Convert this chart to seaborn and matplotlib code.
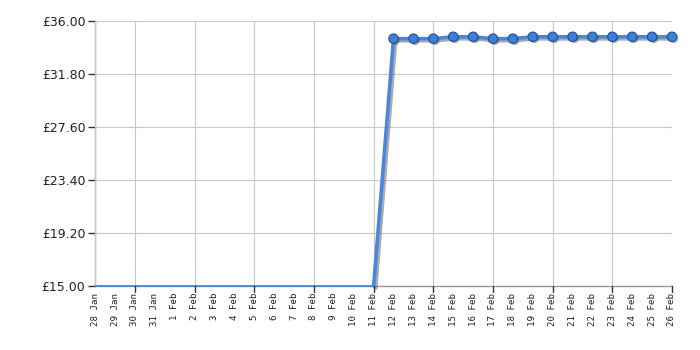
import matplotlib
matplotlib.use("Agg")
import matplotlib.pyplot as plt
import matplotlib.patheffects as pe
import seaborn as sns
import pandas as pd
import numpy as np

dates = ["28 Jan", "29 Jan", "30 Jan", "31 Jan", "1 Feb", "2 Feb", "3 Feb", "4 Feb",
         "5 Feb", "6 Feb", "7 Feb", "8 Feb", "9 Feb", "10 Feb", "11 Feb", "12 Feb",
         "13 Feb", "14 Feb", "15 Feb", "16 Feb", "17 Feb", "18 Feb", "19 Feb", "20 Feb",
         "21 Feb", "22 Feb", "23 Feb", "24 Feb", "25 Feb", "26 Feb"]
prices = [15.0] * 15 + [34.6, 34.6, 34.6, 34.75, 34.75, 34.6, 34.6, 34.75, 34.75,
                        34.75, 34.75, 34.75, 34.75, 34.75, 34.75]
y_ticks = [15.00, 19.20, 23.40, 27.60, 31.80, 36.00]

df = pd.DataFrame({"day": np.arange(len(dates)), "price": prices, "label": dates})
low = df.iloc[:15]
high = df.iloc[14:]
marked = df.iloc[15:]

sns.set_style("white")
plt.rcParams['font.family'] = ['DejaVu Sans']

fig = plt.figure(figsize=(7, 3.5), dpi=100)
ax = fig.add_axes([0.136, 0.183, 0.824, 0.757])

line_col = "#4a86e0"
sns.lineplot(data=low, x="day", y="price", ax=ax, color=line_col, linewidth=1.3, zorder=4, clip_on=False)
sns.lineplot(data=high, x="day", y="price", ax=ax, color=line_col, linewidth=2.6, zorder=5, clip_on=False,
             path_effects=[pe.SimpleLineShadow(offset=(1.5, -1.5), shadow_color="#666666", alpha=0.55),
                           pe.Normal()])
sns.scatterplot(data=marked, x="day", y="price", ax=ax, color="#3f7fd8", edgecolor="#1f4f9a",
                linewidth=0.8, s=46, zorder=6, clip_on=False,
                path_effects=[pe.SimplePatchShadow(offset=(1.2, -1.2), shadow_rgbFace="#555555", alpha=0.5),
                              pe.Normal()])

ax.set_xlim(0, len(dates) - 1)
ax.set_ylim(15, 36)
ax.set_yticks(y_ticks)
ax.set_yticklabels([f"£{v:.2f}" for v in y_ticks], fontsize=9, color="#222222")
major = np.arange(2, len(dates), 3)
ax.set_xticks(np.arange(len(dates)))
ax.set_xticklabels(dates, rotation=90, fontsize=6.6, family="DejaVu Sans Mono", color="#222222")
ax.set_xlabel("")
ax.set_ylabel("")

grid_x = [0] + list(major)
for gx in grid_x:
    ax.axvline(gx, color="#c8c8c8", linewidth=0.8, zorder=1)
for gy in y_ticks:
    ax.axhline(gy, color="#c8c8c8", linewidth=0.8, zorder=1)

ax.tick_params(axis="y", which="both", direction="out", length=5, width=1, color="#333333", pad=2, left=True)
ax.tick_params(axis="x", which="both", direction="out", length=0, pad=5, bottom=True)
for gx in major:
    ax.plot([gx, gx], [0, -0.022], transform=ax.get_xaxis_transform(), color="#333333",
            linewidth=1, clip_on=False, zorder=7)

for s in ["left", "bottom"]:
    ax.spines[s].set_color("#999999")
    ax.spines[s].set_linewidth(1)
    ax.spines[s].set_zorder(0.5)
for s in ["top", "right"]:
    ax.spines[s].set_visible(False)

fig.savefig("out.png", dpi=100)
